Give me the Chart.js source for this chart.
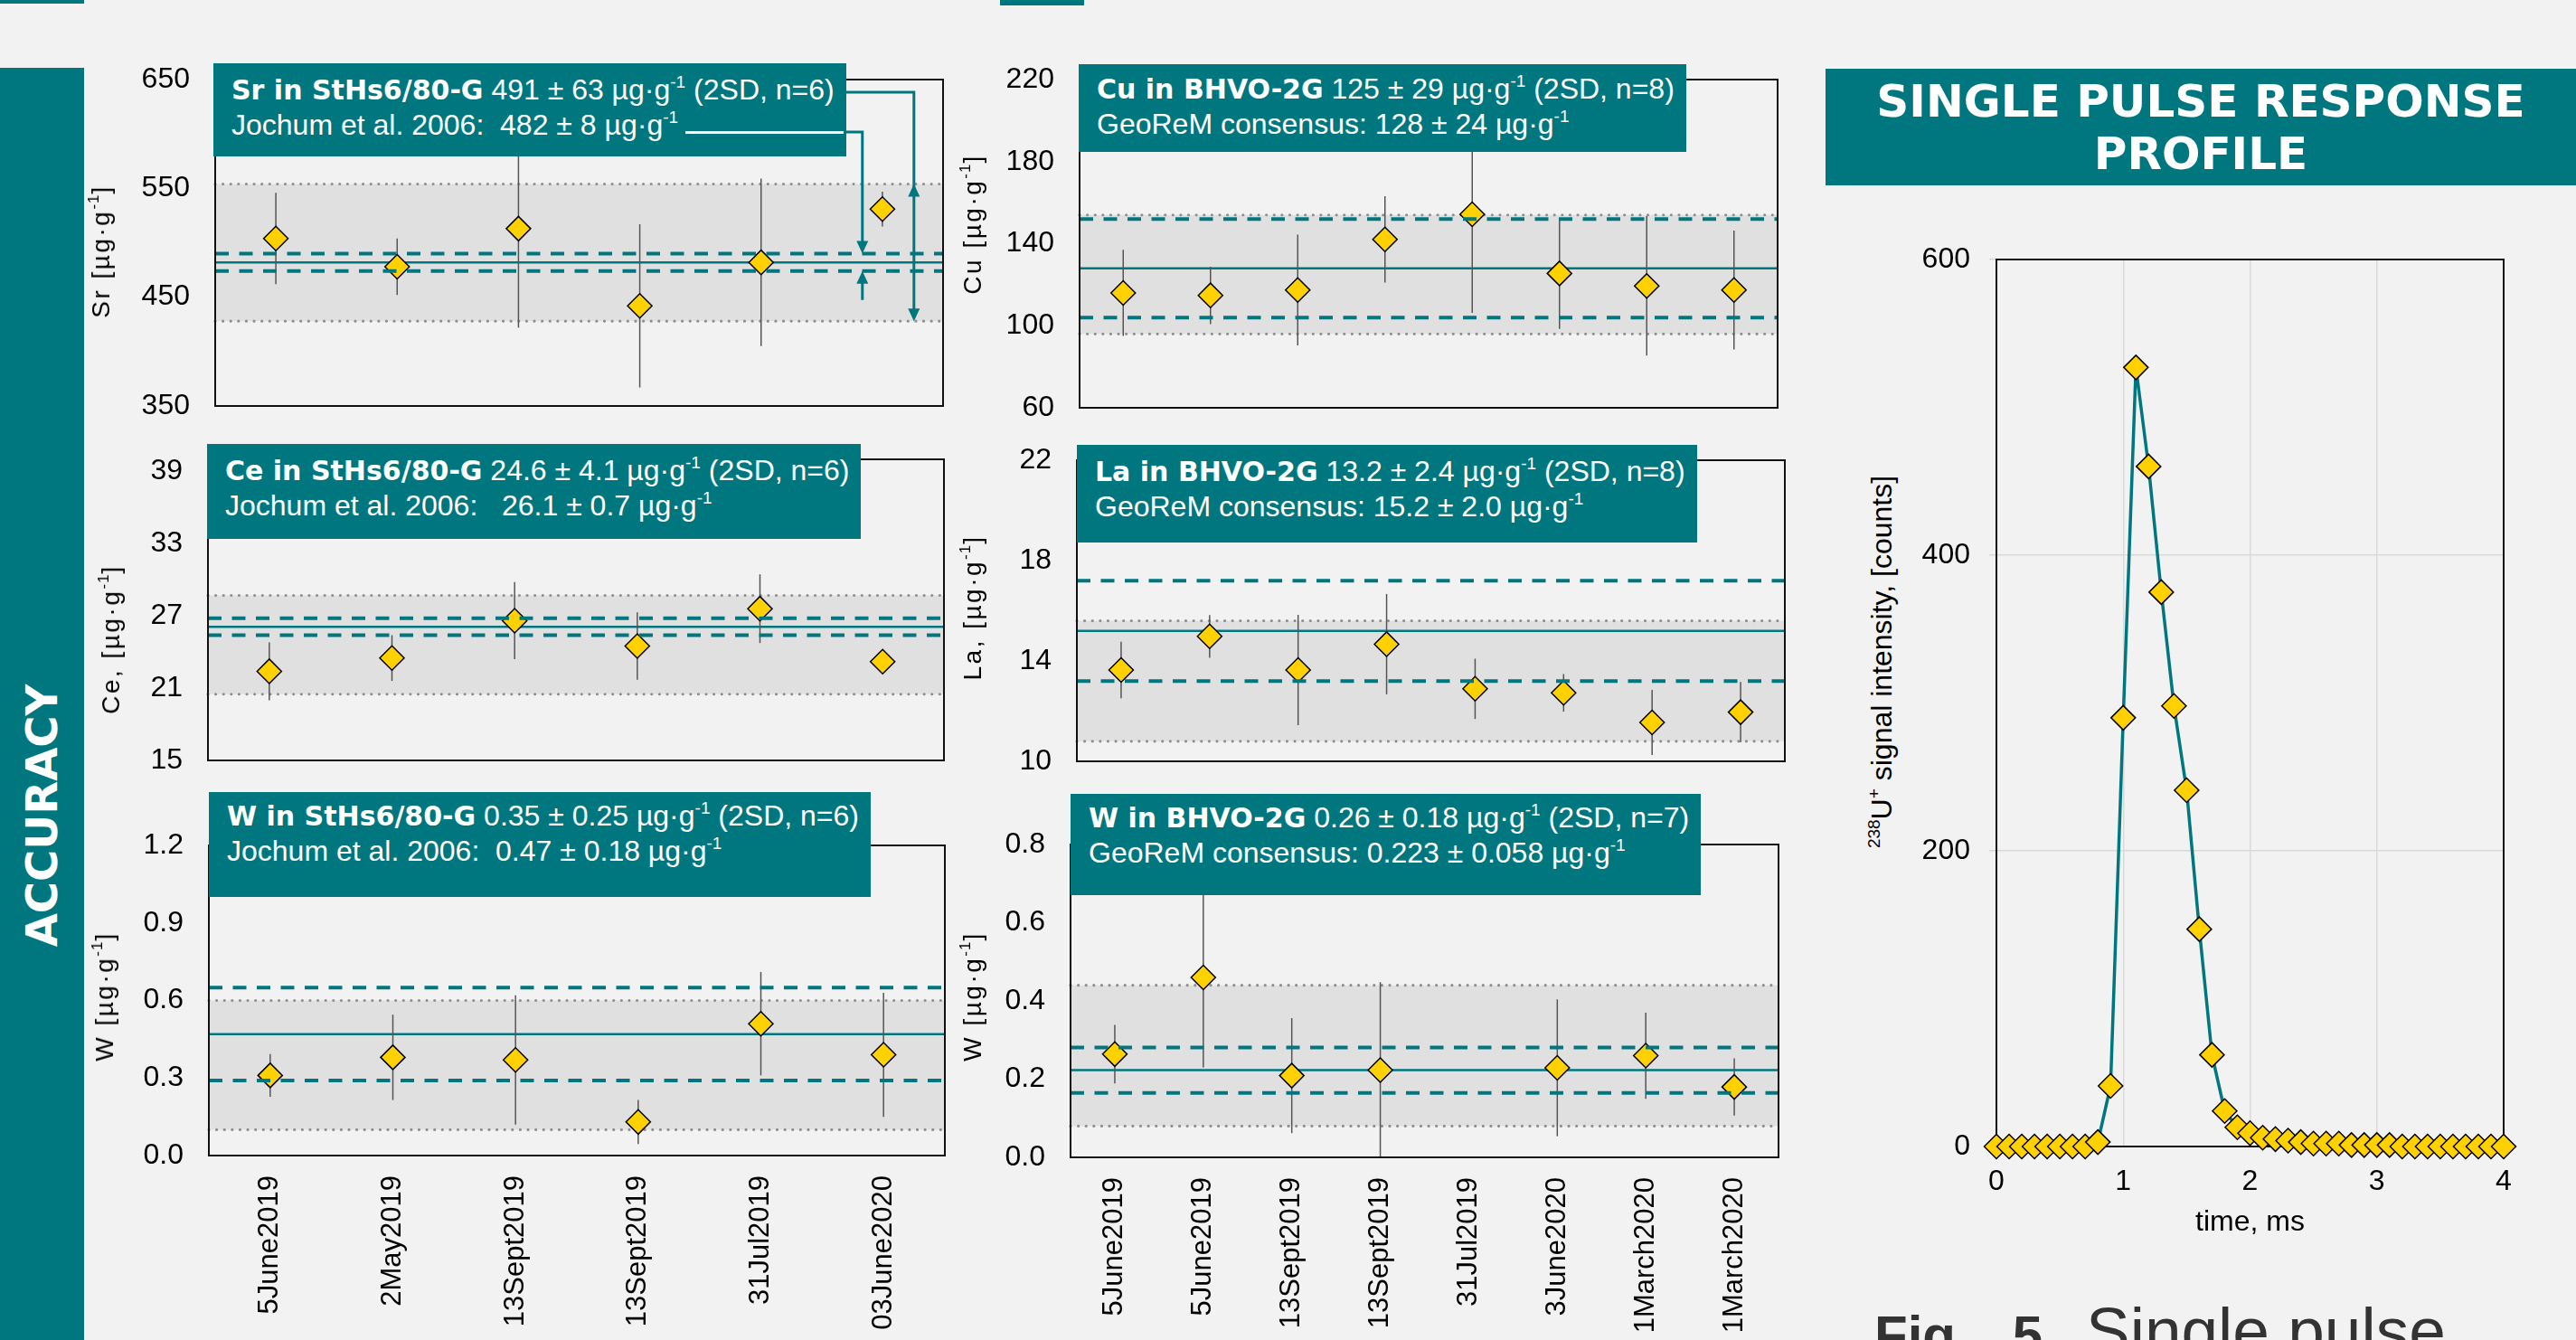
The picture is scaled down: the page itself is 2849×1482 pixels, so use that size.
<!DOCTYPE html>
<html>
<head>
<meta charset="utf-8">
<title>Accuracy and single pulse response profile</title>
<script src="https://cdn.jsdelivr.net/npm/chart.js@4.4.1/dist/chart.umd.min.js"></script>
<style>
  html, body { margin:0; padding:0; }
  body { width:2849px; height:1482px; overflow:hidden; position:relative; background:#F2F2F2; font-family:"Liberation Sans", Arial, sans-serif; }
  .bar { position:absolute; background:#00777F; }
  canvas { position:absolute; z-index:2; }
  .tbox { position:absolute; z-index:5; background:#00777F; color:#fff; font-size:32px; line-height:38px; padding:10px 13px 0 20px; box-sizing:border-box; white-space:nowrap; }
  .tbox b { font-family:"DejaVu Sans", sans-serif; font-weight:bold; font-size:30px; }
  .tbox sup { font-size:19px; line-height:0; vertical-align:13px; }
  .wline { position:absolute; height:3px; background:#fff; }
  .ylab { position:absolute; z-index:4; transform:translate(-50%,-50%) rotate(-90deg); white-space:nowrap; font-size:28px; letter-spacing:2.5px; color:#000; }
  .ylab sup { font-size:17px; line-height:0; vertical-align:12px; letter-spacing:1px; }
  .acc { position:absolute; z-index:4; left:46px; top:902px; transform:translate(-50%,-50%) rotate(-90deg); white-space:nowrap; color:#fff; font-family:"DejaVu Sans", sans-serif; font-weight:bold; font-size:48px; }
  .ptitle { position:absolute; z-index:5; left:2019px; top:76px; width:830px; height:129px; box-sizing:border-box; padding-top:7px; background:#00777F; color:#fff; text-align:center; font-family:"DejaVu Sans", sans-serif; font-weight:bold; font-size:50px; line-height:58px; }
  .plab { position:absolute; z-index:4; transform:translate(-50%,-50%) rotate(-90deg); white-space:nowrap; font-size:32px; color:#000; }
  .plab sup { font-size:19px; line-height:0; vertical-align:13px; }
  .fig { position:absolute; z-index:4; left:2073px; top:1435px; white-space:nowrap; color:#333; line-height:73px; }
  .fig .b { font-weight:bold; font-size:60px; }
  .fig .r { font-size:73px; }
</style>
</head>
<body>
<div class="bar" style="left:0;top:0;width:93px;height:4px;"></div>
<div class="bar" style="left:1106px;top:0;width:93px;height:6px;"></div>
<div class="bar" style="left:0;top:75px;width:93px;height:1407px;"></div>
<div class="acc">ACCURACY</div>

<div class="tbox" style="left:236px;top:70px;height:103px;"><b>Sr in StHs6/80-G</b> 491 ± 63 µg·g<sup>-1</sup> (2SD, n=6)<br>Jochum et al. 2006:&nbsp; 482 ± 8 µg·g<sup>-1</sup><div class="wline" style="left:522px;right:3px;top:75px;"></div></div>
<div class="tbox" style="left:1193px;top:71px;height:97px;padding-top:8px;"><b>Cu in BHVO-2G</b> 125 ± 29 µg·g<sup>-1</sup> (2SD, n=8)<br>GeoReM consensus: 128 ± 24 µg·g<sup>-1</sup></div>
<div class="tbox" style="left:229px;top:491px;height:105px;"><b>Ce in StHs6/80-G</b> 24.6 ± 4.1 µg·g<sup>-1</sup> (2SD, n=6)<br>Jochum et al. 2006:&nbsp;&nbsp; 26.1 ± 0.7 µg·g<sup>-1</sup></div>
<div class="tbox" style="left:1191px;top:492px;height:108px;"><b>La in BHVO-2G</b> 13.2 ± 2.4 µg·g<sup>-1</sup> (2SD, n=8)<br>GeoReM consensus: 15.2 ± 2.0 µg·g<sup>-1</sup></div>
<div class="tbox" style="left:231px;top:876px;height:116px;padding-top:7px;"><b>W in StHs6/80-G</b> 0.35 ± 0.25 µg·g<sup>-1</sup> (2SD, n=6)<br>Jochum et al. 2006:&nbsp; 0.47 ± 0.18 µg·g<sup>-1</sup></div>
<div class="tbox" style="left:1184px;top:878px;height:112px;padding-top:7px;"><b>W in BHVO-2G</b> 0.26 ± 0.18 µg·g<sup>-1</sup> (2SD, n=7)<br>GeoReM consensus: 0.223 ± 0.058 µg·g<sup>-1</sup></div>

<div class="ylab" style="left:112px;top:278px;">Sr [µg·g<sup>-1</sup>]</div>
<div class="ylab" style="left:1076px;top:248px;">Cu [µg·g<sup>-1</sup>]</div>
<div class="ylab" style="left:123px;top:707px;">Ce, [µg·g<sup>-1</sup>]</div>
<div class="ylab" style="left:1076px;top:672px;">La, [µg·g<sup>-1</sup>]</div>
<div class="ylab" style="left:116px;top:1102px;">W [µg·g<sup>-1</sup>]</div>
<div class="ylab" style="left:1076px;top:1102px;">W [µg·g<sup>-1</sup>]</div>

<div class="ptitle">SINGLE PULSE RESPONSE<br>PROFILE</div>
<div class="plab" style="left:2081px;top:732px;"><sup>238</sup>U<sup>+</sup> signal intensity, [counts]</div>
<div class="fig"><span class="b">Fig.</span><span class="b" style="margin-left:46px;">5</span><span class="r" style="margin-left:48px;">Single pulse</span></div>

<script>
// ---------- data ----------
const datesStHs = ['5June2019', '2May2019', '13Sept2019', '13Sept2019', '31Jul2019', '03June2020'];
const datesBHVO = ['5June2019', '5June2019', '13Sept2019', '13Sept2019', '31Jul2019', '3June2020', '1March2020', '1March2020'];

const srValues = [504, 478, 513, 442, 482, 531];
const srErrors = [42, 26, 91, 75, 77, 16];
const srMeasured = [491, 63];      // mean, 2SD
const srReference = [482, 8];      // Jochum et al. 2006
const srTicks = [350, 450, 550, 650];

const cuValues = [116, 114.8, 117.4, 142.1, 154.3, 125.5, 119.4, 117.4];
const cuErrors = [21, 14, 27, 21, 48, 27, 34, 29];
const cuMeasured = [125, 29];
const cuReference = [128, 24];
const cuTicks = [60, 100, 140, 180, 220];

const ceValues = [22.4, 23.5, 26.6, 24.5, 27.6, 23.2];
const ceErrors = [2.4, 1.9, 3.2, 2.8, 2.85, 0.4];
const ceMeasured = [24.6, 4.1];
const ceReference = [26.1, 0.7];
const ceTicks = [15, 21, 27, 33, 39];

const laValues = [13.64, 14.98, 13.64, 14.67, 12.89, 12.73, 11.55, 11.96];
const laErrors = [1.13, 0.85, 2.2, 2.0, 1.2, 0.75, 1.3, 1.2];
const laMeasured = [13.2, 2.4];
const laReference = [15.2, 2.0];
const laTicks = [10, 14, 18, 22];

const wStValues = [0.31, 0.38, 0.37, 0.13, 0.51, 0.39];
const wStErrors = [0.083, 0.165, 0.25, 0.085, 0.2, 0.24];
const wStMeasured = [0.35, 0.25];
const wStReference = [0.47, 0.18];
const wStTicks = [0, 0.3, 0.6, 0.9, 1.2];

const wBhValues = [0.264, 0.46, 0.209, 0.223, null, 0.229, 0.26, 0.18];
const wBhErrors = [0.075, 0.23, 0.147, 0.225, null, 0.175, 0.11, 0.073];
const wBhMeasured = [0.26, 0.18];
const wBhReference = [0.223, 0.058];
const wBhTicks = [0, 0.2, 0.4, 0.6, 0.8];

const pulseTime = [0, 0.1, 0.2, 0.3, 0.4, 0.5, 0.6, 0.7, 0.8, 0.9,
                   1.0, 1.1, 1.2, 1.3, 1.4, 1.5, 1.6, 1.7, 1.8, 1.9,
                   2.0, 2.1, 2.2, 2.3, 2.4, 2.5, 2.6, 2.7, 2.8, 2.9,
                   3.0, 3.1, 3.2, 3.3, 3.4, 3.5, 3.6, 3.7, 3.8, 3.9, 4.0];
const pulseCounts = [0, 0, 0, 0, 0, 0, 0, 0, 3, 41,
                     290, 527, 460, 375, 298, 241, 147, 62, 24, 13,
                     9, 6, 5, 4, 3, 2, 2, 2, 1, 1,
                     1, 1, 0, 0, 0, 0, 0, 0, 0, 0, 0];
const pulseXTicks = [0, 1, 2, 3, 4];
const pulseYTicks = [0, 200, 400, 600];

// ---------- styling ----------
const TEAL = '#00777F';
const YELLOW = '#FFD100';
Chart.defaults.font.family = '"Liberation Sans", Arial, sans-serif';
Chart.defaults.color = '#000';

function makeCanvas(L, T, R, B) {
  const c = document.createElement('canvas');
  c.width = R - L; c.height = B - T;
  Object.assign(c.style, { left: L + 'px', top: T + 'px', width: (R - L) + 'px', height: (B - T) + 'px' });
  document.body.appendChild(c);
  return c;
}

function noPad(s) { s.paddingTop = 0; s.paddingBottom = 0; s.paddingLeft = 0; s.paddingRight = 0; }

function hLine(ctx, a, yy) {
  ctx.beginPath(); ctx.moveTo(a.left, yy); ctx.lineTo(a.right, yy); ctx.stroke();
}

function arrowHead(ctx, x, tipY, dir) { // dir -1 up, +1 down
  ctx.beginPath();
  ctx.moveTo(x, tipY);
  ctx.lineTo(x - 6.5, tipY - dir * 14);
  ctx.lineTo(x + 6.5, tipY - dir * 14);
  ctx.closePath(); ctx.fill();
}

function accuracyPanel(p) {
  const cv = makeCanvas(p.cL, p.cT, p.cR, p.cB);
  const decor = {
    id: 'decor',
    beforeDatasetsDraw(chart) {
      const { ctx, chartArea: a, scales: { x, y } } = chart;
      const [m, sd] = p.measured, [r] = p.reference;
      ctx.save();
      const yt = y.getPixelForValue(m + sd), yb = y.getPixelForValue(m - sd);
      ctx.fillStyle = '#E0E0E0';
      ctx.fillRect(a.left, yt, a.right - a.left, yb - yt);
      ctx.strokeStyle = '#8F8F8F'; ctx.lineWidth = 3.2; ctx.lineCap = 'round'; ctx.setLineDash([0.01, 8.6]);
      hLine(ctx, a, yt); hLine(ctx, a, yb);
      ctx.setLineDash([]); ctx.lineCap = 'butt';
      ctx.strokeStyle = TEAL; ctx.lineWidth = 2.5;
      hLine(ctx, a, y.getPixelForValue(r));
      ctx.strokeStyle = '#555'; ctx.lineWidth = 1.5;
      p.values.forEach((v, i) => {
        if (v == null) return;
        const px = x.getPixelForValue(i);
        ctx.beginPath();
        ctx.moveTo(px, y.getPixelForValue(v + p.errors[i]));
        ctx.lineTo(px, y.getPixelForValue(v - p.errors[i]));
        ctx.stroke();
      });
      ctx.restore();
    },
    afterDatasetsDraw(chart) {
      const { ctx, chartArea: a, scales: { x, y } } = chart;
      const [m, sd] = p.measured, [r, u] = p.reference;
      ctx.save();
      ctx.strokeStyle = TEAL; ctx.lineWidth = 4; ctx.setLineDash([15, 11.5]);
      const yrh = y.getPixelForValue(r + u), yrl = y.getPixelForValue(r - u);
      hLine(ctx, a, yrh); hLine(ctx, a, yrl);
      ctx.setLineDash([]);
      ctx.strokeStyle = '#111'; ctx.lineWidth = 2;
      ctx.strokeRect(a.left, a.top, a.right - a.left, a.bottom - a.top);
      if (p.arrows) {
        const xa = x.getPixelForValue(p.arrows[0]), xb = x.getPixelForValue(p.arrows[1]);
        const yt = y.getPixelForValue(m + sd), yb = y.getPixelForValue(m - sd);
        const y1 = a.top + 14, y2 = a.top + 58;
        ctx.strokeStyle = TEAL; ctx.fillStyle = TEAL; ctx.lineWidth = 3;
        ctx.beginPath(); ctx.moveTo(xa - 110, y1); ctx.lineTo(xa, y1); ctx.lineTo(xa, yb - 10); ctx.stroke();
        arrowHead(ctx, xa, yt, -1); arrowHead(ctx, xa, yb, 1);
        ctx.beginPath(); ctx.moveTo(xb - 40, y2); ctx.lineTo(xb, y2); ctx.lineTo(xb, yrh - 10); ctx.stroke();
        arrowHead(ctx, xb, yrh, 1);
        ctx.beginPath(); ctx.moveTo(xb, yrl + 32); ctx.lineTo(xb, yrl + 10); ctx.stroke();
        arrowHead(ctx, xb, yrl, -1);
      }
      ctx.restore();
    }
  };
  return new Chart(cv, {
    type: 'line',
    data: {
      labels: p.labels,
      datasets: [{
        data: p.values, showLine: false, pointStyle: 'rectRot', pointRadius: 13.5,
        pointBackgroundColor: YELLOW, pointBorderColor: '#000', pointBorderWidth: 1.5, clip: false
      }]
    },
    options: {
      responsive: false, animation: false, events: [], devicePixelRatio: 1,
      layout: { autoPadding: false, padding: { left: 0, top: p.pT - p.cT, right: p.cR - p.pR, bottom: 0 } },
      plugins: { legend: { display: false }, tooltip: { enabled: false } },
      scales: {
        x: {
          type: 'category', offset: true,
          grid: { display: false, drawTicks: false }, border: { display: false },
          ticks: { display: p.showX, autoSkip: false, minRotation: 90, maxRotation: 90, padding: 22, font: { size: 31 } },
          afterFit(s) { s.height = p.cB - p.pB; noPad(s); }
        },
        y: {
          min: p.min, max: p.max,
          grid: { display: false, drawTicks: false }, border: { display: false },
          afterBuildTicks(s) { s.ticks = p.ticks.map(v => ({ value: v })); },
          ticks: { padding: 28, font: { size: 32 }, callback: v => v.toFixed(p.dec) },
          afterFit(s) { s.width = p.pL - p.cL; noPad(s); }
        }
      }
    },
    plugins: [decor]
  });
}

accuracyPanel({ labels: datesStHs, values: srValues, errors: srErrors, measured: srMeasured, reference: srReference,
  ticks: srTicks, min: 350, max: 650, dec: 0, showX: false, arrows: [5.26, 4.835],
  cL: 120, cT: 40, cR: 1060, cB: 470, pL: 238, pT: 88, pR: 1043, pB: 449 });
accuracyPanel({ labels: datesBHVO, values: cuValues, errors: cuErrors, measured: cuMeasured, reference: cuReference,
  ticks: cuTicks, min: 60, max: 220, dec: 0, showX: false,
  cL: 1100, cT: 40, cR: 1985, cB: 470, pL: 1194, pT: 88, pR: 1966, pB: 451 });
accuracyPanel({ labels: datesStHs, values: ceValues, errors: ceErrors, measured: ceMeasured, reference: ceReference,
  ticks: ceTicks, min: 15, max: 40, dec: 0, showX: false,
  cL: 120, cT: 470, cR: 1060, cB: 870, pL: 230, pT: 508, pR: 1044, pB: 841 });
accuracyPanel({ labels: datesBHVO, values: laValues, errors: laErrors, measured: laMeasured, reference: laReference,
  ticks: laTicks, min: 10, max: 22, dec: 0, showX: false,
  cL: 1100, cT: 470, cR: 1990, cB: 870, pL: 1191, pT: 509, pR: 1974, pB: 842 });
accuracyPanel({ labels: datesStHs, values: wStValues, errors: wStErrors, measured: wStMeasured, reference: wStReference,
  ticks: wStTicks, min: 0, max: 1.2, dec: 1, showX: true,
  cL: 120, cT: 890, cR: 1060, cB: 1482, pL: 231, pT: 935, pR: 1045, pB: 1278 });
accuracyPanel({ labels: datesBHVO, values: wBhValues, errors: wBhErrors, measured: wBhMeasured, reference: wBhReference,
  ticks: wBhTicks, min: 0, max: 0.8, dec: 1, showX: true,
  cL: 1095, cT: 890, cR: 1985, cB: 1482, pL: 1184, pT: 934, pR: 1967, pB: 1280 });

// ---------- single pulse response ----------
(function () {
  const cL = 2100, cT = 250, cR = 2800, cB = 1390, pL = 2208, pT = 287, pR = 2769, pB = 1268;
  const cv = makeCanvas(cL, cT, cR, cB);
  const frame = {
    id: 'frame',
    beforeDatasetsDraw(chart) {
      const { ctx, chartArea: a } = chart;
      ctx.save(); ctx.strokeStyle = '#111'; ctx.lineWidth = 2;
      ctx.strokeRect(a.left, a.top, a.right - a.left, a.bottom - a.top);
      ctx.restore();
    }
  };
  new Chart(cv, {
    type: 'scatter',
    data: {
      datasets: [{
        data: pulseTime.map((t, i) => ({ x: t, y: pulseCounts[i] })),
        showLine: true, borderColor: TEAL, borderWidth: 3.5, tension: 0,
        pointStyle: 'rectRot', pointRadius: 13.5, pointBackgroundColor: YELLOW,
        pointBorderColor: '#000', pointBorderWidth: 1.5, clip: false
      }]
    },
    options: {
      responsive: false, animation: false, events: [], devicePixelRatio: 1,
      layout: { autoPadding: false, padding: { left: 0, top: pT - cT, right: cR - pR, bottom: 0 } },
      plugins: { legend: { display: false }, tooltip: { enabled: false } },
      scales: {
        x: {
          type: 'linear', min: 0, max: 4,
          afterBuildTicks(s) { s.ticks = pulseXTicks.map(v => ({ value: v })); },
          grid: { color: '#D9D9D9', lineWidth: 1.5, drawTicks: false }, border: { display: false },
          ticks: { padding: 20, font: { size: 32 } },
          title: { display: true, text: 'time, ms', font: { size: 32 }, padding: { top: 0, bottom: 19 } },
          afterFit(s) { s.height = cB - pB; noPad(s); }
        },
        y: {
          min: 0, max: 600,
          afterBuildTicks(s) { s.ticks = pulseYTicks.map(v => ({ value: v })); },
          grid: { color: '#D9D9D9', lineWidth: 1.5, drawTicks: true, tickLength: 8 }, border: { display: false },
          ticks: { padding: 21, font: { size: 32 } },
          afterFit(s) { s.width = pL - cL; noPad(s); }
        }
      }
    },
    plugins: [frame]
  });
})();
</script>
</body>
</html>
